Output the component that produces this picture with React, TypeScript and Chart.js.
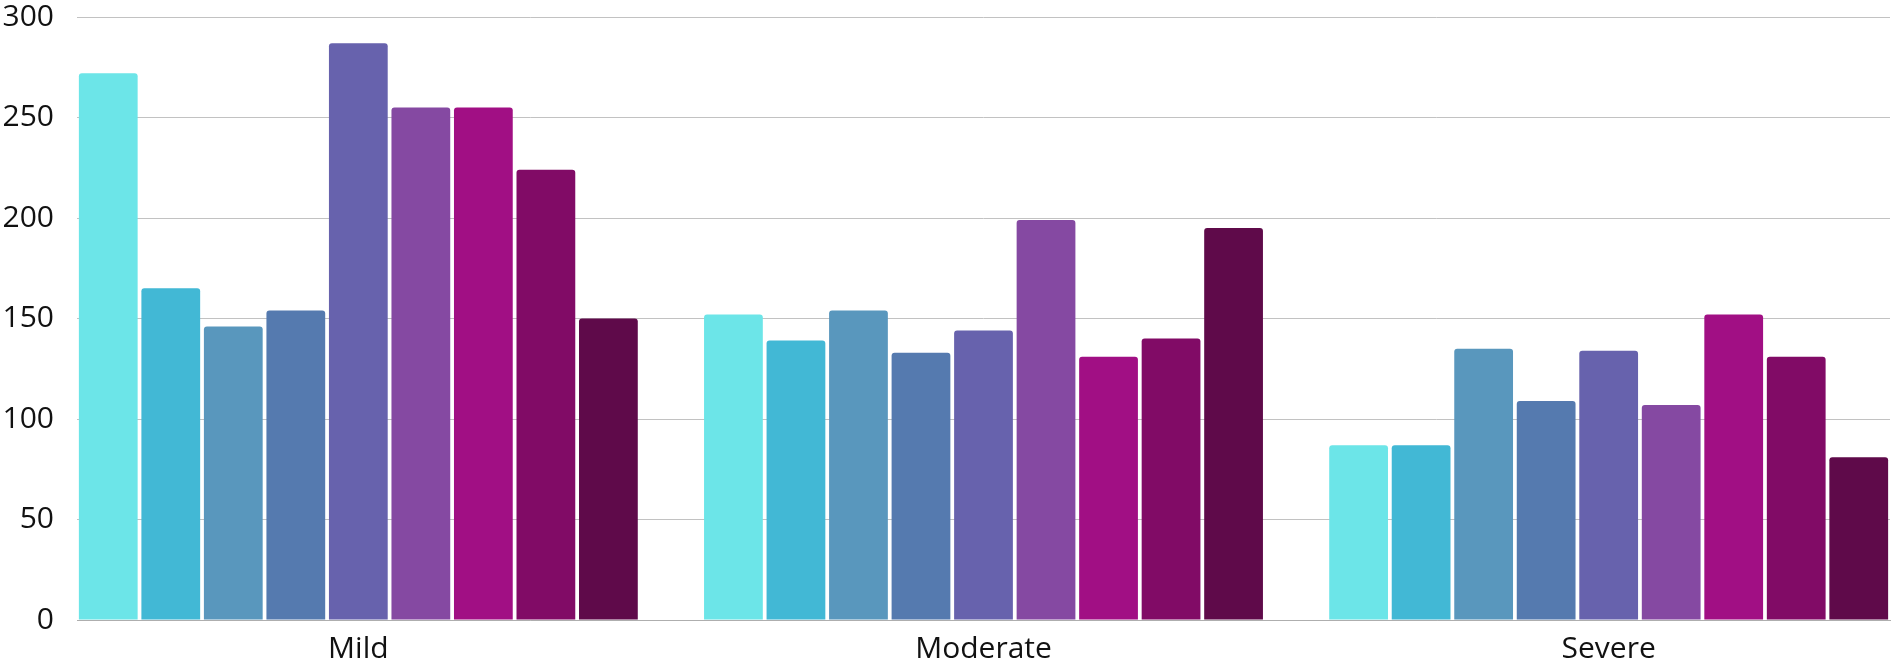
import { useEffect, useRef } from 'react';
import { Chart, registerables } from 'chart.js';

Chart.register(...registerables);

const categories = ['Mild', 'Moderate', 'Severe'];

const series1 = [272, 152, 87];
const series2 = [165, 139, 87];
const series3 = [146, 154, 135];
const series4 = [154, 133, 109];
const series5 = [287, 144, 134];
const series6 = [255, 199, 107];
const series7 = [255, 131, 152];
const series8 = [224, 140, 131];
const series9 = [150, 195, 81];

const seriesList = [series1, series2, series3, series4, series5, series6, series7, series8, series9];
const seriesNames = ['Series 1', 'Series 2', 'Series 3', 'Series 4', 'Series 5', 'Series 6', 'Series 7', 'Series 8', 'Series 9'];
const colors = ['#6CE5E8', '#42B8D5', '#5997BD', '#557AAF', '#6762AD', '#8549A2', '#A10F84', '#810B66', '#5F0A4A'];

const yTicks = { min: 0, max: 300, step: 50 };

export default function App() {
  const ref = useRef<HTMLCanvasElement>(null);

  useEffect(() => {
    Chart.defaults.font.family = "'Open Sans', 'Noto Sans', sans-serif";
    const chart = new Chart(ref.current as HTMLCanvasElement, {
      type: 'bar',
      data: {
        datasets: seriesList.map((vals, k) => ({
          label: seriesNames[k],
          data: vals.map((v, i) => ({ x: i, y: v })),
          backgroundColor: colors[k],
          borderWidth: 0,
          borderRadius: 3,
          borderSkipped: 'start',
          barPercentage: 0.94,
          categoryPercentage: 0.9,
        })),
      },
      options: {
        animation: false,
        responsive: true,
        maintainAspectRatio: false,
        layout: { padding: { top: 0, right: 5, left: 0, bottom: 0 } },
        plugins: { legend: { display: false }, tooltip: { enabled: false } },
        scales: {
          x: {
            type: 'linear',
            min: -0.45,
            max: 2.45,
            offset: false,
            grid: { display: false, offset: false, drawTicks: false },
            border: { display: true, color: '#aeaeae', width: 1 },
            ticks: {
              padding: 11,
              font: { size: 30 },
              color: '#111',
              maxRotation: 0,
              autoSkip: false,
              callback: (v: any) => categories[Number(v)] ?? '',
            },
            afterBuildTicks: (s: any) => {
              s.ticks = categories.map((_, i) => ({ value: i }));
            },
            afterFit: (s: any) => {
              s.height = 45;
            },
          },
          y: {
            min: yTicks.min,
            max: yTicks.max,
            ticks: { stepSize: yTicks.step, padding: 23, font: { size: 30, lineHeight: 1 }, color: '#111' },
            grid: { color: '#c2c2c2', drawTicks: false },
            border: { display: false },
            afterFit: (s: any) => {
              s.width = 77;
              s.paddingTop = 17;
              s.paddingBottom = 0;
            },
          },
        },
      } as any,
    });
    return () => chart.destroy();
  }, []);

  return (
    <div style={{ position: 'absolute', left: 0, top: 0, width: '1895px', height: '665px', background: '#fff' }}>
      <canvas ref={ref} />
    </div>
  );
}
